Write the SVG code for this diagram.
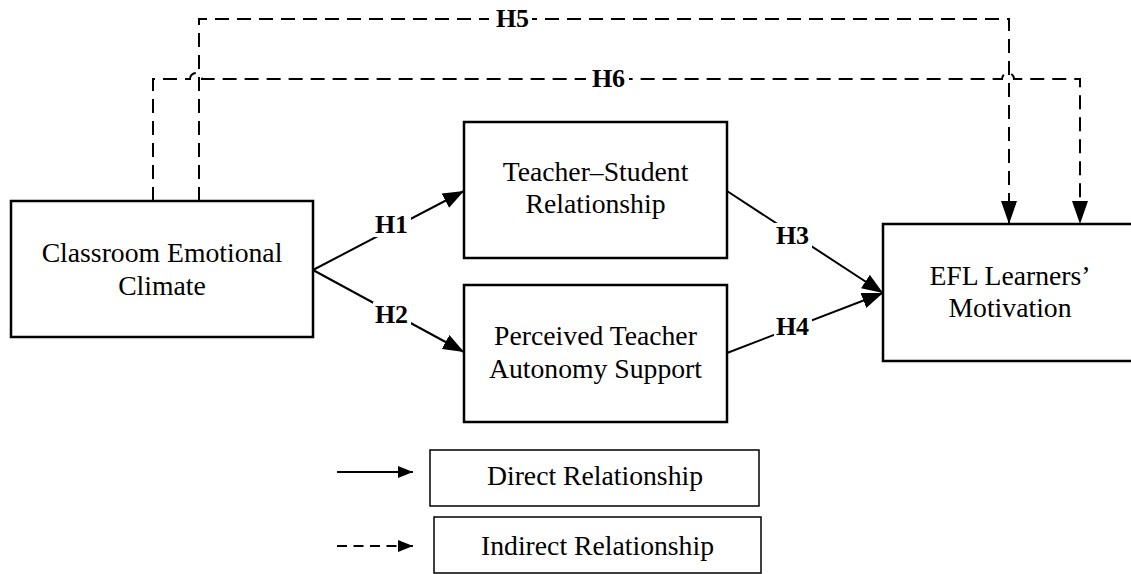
<svg xmlns="http://www.w3.org/2000/svg" width="1131" height="574" viewBox="0 0 1131 574">
<style>
.box{fill:#fff;stroke:#000;stroke-width:2.5}
.lbox{fill:#fff;stroke:#000;stroke-width:1.5}
.t{font-family:"Liberation Serif","Times New Roman",serif;font-size:27.7px;fill:#000;text-anchor:middle}
.h{font-family:"Liberation Serif","Times New Roman",serif;font-size:26px;font-weight:bold;fill:#000;text-anchor:middle}
.solid{fill:none;stroke:#000;stroke-width:2}
.dash{fill:none;stroke:#000;stroke-width:2;stroke-dasharray:14 8}
.bg{fill:#fff}
</style>
<defs>
<marker id="ah" viewBox="0 0 21 16" refX="21" refY="8" markerWidth="21" markerHeight="16" markerUnits="userSpaceOnUse" orient="auto"><path d="M0,0 L21,8 L0,16 z" fill="#000"/></marker>
<marker id="ahd" viewBox="0 0 23 16" refX="23" refY="8" markerWidth="23" markerHeight="16" markerUnits="userSpaceOnUse" orient="auto"><path d="M0,0 L23,8 L0,16 z" fill="#000"/></marker>
<marker id="ahl" viewBox="0 0 15 12" refX="15" refY="6" markerWidth="15" markerHeight="12" markerUnits="userSpaceOnUse" orient="auto"><path d="M0,0 L15,6 L0,12 z" fill="#000"/></marker>
</defs>
<g id="connectors">
<path class="dash" d="M199,201 V19 H1009 V224" marker-end="url(#ahd)"/>
<path class="dash" d="M153,201 V79 H190 A6,6 0 0 1 202,79 H1002 A6,6 0 0 1 1014,79 H1080 V224" marker-end="url(#ahd)"/>
<path class="solid" d="M313,270 L464,191" marker-end="url(#ah)"/>
<path class="solid" d="M313,270 L464,352" marker-end="url(#ah)"/>
<path class="solid" d="M727,191 L883,293" marker-end="url(#ah)"/>
<path class="solid" d="M727,353 L883,293" marker-end="url(#ah)"/>
<rect class="bg" x="489" y="8" width="43" height="22"/>
<text class="h" x="512.5" y="27">H5</text>
<rect class="bg" x="586" y="68" width="43" height="22"/>
<text class="h" x="608.5" y="87">H6</text>
<rect class="bg" x="373" y="212" width="38" height="25"/>
<text class="h" x="391.5" y="233">H1</text>
<rect class="bg" x="373" y="302" width="38" height="25"/>
<text class="h" x="391.5" y="323">H2</text>
<rect class="bg" x="774" y="223" width="38" height="25"/>
<text class="h" x="792.5" y="244">H3</text>
<rect class="bg" x="774" y="314" width="38" height="25"/>
<text class="h" x="792.5" y="335">H4</text>
</g>
<g id="node-classroom">
<rect class="box" x="11" y="201" width="302" height="136"/>
<text class="t" x="162" y="262">Classroom Emotional</text>
<text class="t" x="162" y="295">Climate</text>
</g>
<g id="node-tsr">
<rect class="box" x="464" y="122" width="263" height="136"/>
<text class="t" x="595.5" y="181">Teacher–Student</text>
<text class="t" x="595.5" y="213">Relationship</text>
</g>
<g id="node-ptas">
<rect class="box" x="464" y="285" width="263" height="137"/>
<text class="t" x="595.5" y="345">Perceived Teacher</text>
<text class="t" x="595.5" y="378">Autonomy Support</text>
</g>
<g id="node-efl">
<rect class="box" x="883" y="224" width="250" height="137"/>
<text class="t" x="1010" y="285">EFL Learners’</text>
<text class="t" x="1010" y="317">Motivation</text>
</g>
<g id="legend-direct">
<path class="solid" d="M337,472 H413" marker-end="url(#ahl)"/>
<rect class="lbox" x="430" y="450" width="329" height="56"/>
<text class="t" x="595" y="485">Direct Relationship</text>
</g>
<g id="legend-indirect">
<path class="solid" style="stroke-dasharray:10 6.5" d="M337,546 H413" marker-end="url(#ahl)"/>
<rect class="lbox" x="434" y="517" width="327" height="56"/>
<text class="t" x="597.5" y="555">Indirect Relationship</text>
</g>
</svg>
